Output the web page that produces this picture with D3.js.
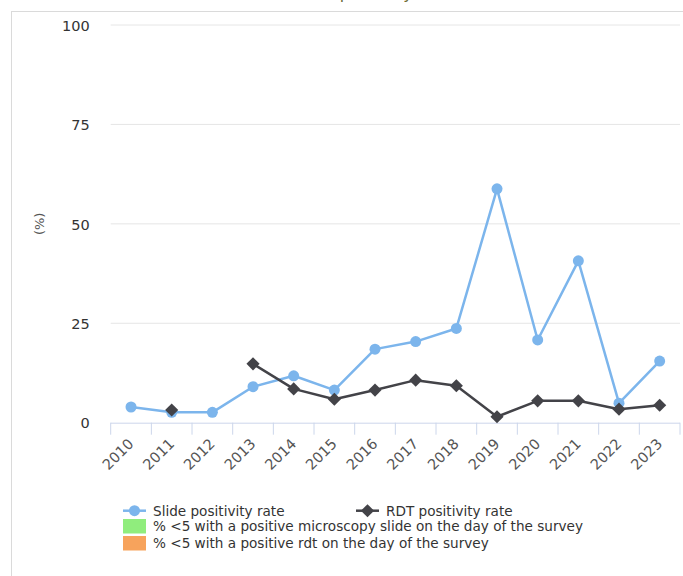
<!DOCTYPE html>
<html><head><meta charset="utf-8">
<script src="https://cdn.jsdelivr.net/npm/d3@7/dist/d3.min.js"></script>
<style>body{margin:0;background:#fff}svg{display:block}</style>
</head><body>
<svg id="c" width="683" height="576"></svg>
<script>
const years = ["2010","2011","2012","2013","2014","2015","2016","2017","2018","2019","2020","2021","2022","2023"];
const slideRate = [3.95, 2.6, 2.6, 9.05, 11.8, 8.2, 18.5, 20.4, 23.7, 58.8, 20.8, 40.7, 4.9, 15.5];
const rdtRate = [null, 3.2, null, 14.8, 8.5, 5.9, 8.2, 10.7, 9.3, 1.5, 5.5, 5.5, 3.4, 4.4];
const yTicks = [0, 25, 50, 75, 100];
const legendLines = ["Slide positivity rate", "RDT positivity rate"];
const legendBoxes = ["% <5 with a positive microscopy slide on the day of the survey", "% <5 with a positive rdt on the day of the survey"];
const colors = {slide:"#7cb5ec", rdt:"#434348", green:"#90ed7d", orange:"#f7a35c"};

const font = "'DejaVu Sans', Verdana, sans-serif";
const svg = d3.select("#c");
const L = 110.7, R = 680, T = 25, B = 422.7;

svg.append("rect").attr("x",11.5).attr("y",11.5).attr("width",700).attr("height",600)
  .attr("fill","none").attr("stroke","#dadada");

svg.append("text").attr("x",358).attr("y",-1).attr("text-anchor","middle")
  .attr("font-family",font).attr("font-size",16).attr("fill","#6d6a35").text("Test positivity");

const x = d3.scaleBand().domain(years).range([L, R]);
const y = d3.scaleLinear().domain([0,100]).range([B, T]);

// grid
svg.append("g").selectAll("line").data(yTicks.filter(d=>d>0)).join("line")
  .attr("x1",L).attr("x2",R).attr("y1",d=>y(d)).attr("y2",d=>y(d))
  .attr("stroke","#e6e6e6").attr("stroke-width",1);

// y axis labels
const ya = svg.append("g").attr("transform",`translate(${L-21},0)`)
  .call(d3.axisLeft(y).tickValues(yTicks).tickSize(0).tickPadding(0));
ya.select(".domain").remove();
ya.selectAll("text").attr("font-family",font).attr("font-size",14.5).attr("fill","#333").attr("dy","0.36em");

svg.append("text").attr("transform",`translate(44,${(T+B)/2}) rotate(-90)`)
  .attr("text-anchor","middle").attr("font-family",font).attr("font-size",13).attr("fill","#555").text("(%)");

// x axis
const xa = svg.append("g").attr("transform",`translate(0,${B})`)
  .call(d3.axisBottom(x).tickSize(0).tickPadding(0));
xa.select(".domain").attr("stroke","#ccd6eb").attr("d",`M${L},0.5H${R}`);
xa.selectAll("g.tick").remove();
const boundaries = years.map(d=>x(d)).concat([R]);
xa.selectAll("line.b").data(boundaries).join("line").attr("class","b")
  .attr("x1",d=>d).attr("x2",d=>d).attr("y1",0).attr("y2",12)
  .attr("stroke","#ccd6eb");
xa.selectAll("text.l").data(years).join("text").attr("class","l")
  .attr("transform",d=>`translate(${x(d)+x.bandwidth()/2+3.5},${22}) rotate(-45)`)
  .attr("text-anchor","end")
  .attr("font-family",font).attr("font-size",14.5).attr("fill","#555").text(d=>d);

const cx = d => x(d) + x.bandwidth()/2;
const line = d3.line().defined(d=>d.v!=null).x(d=>cx(d.k)).y(d=>y(d.v));

const sData = years.map((k,i)=>({k, v:slideRate[i]}));
const rData = years.map((k,i)=>({k, v:rdtRate[i]}));

svg.append("path").datum(sData).attr("d",line).attr("fill","none")
  .attr("stroke",colors.slide).attr("stroke-width",2.5).attr("stroke-linejoin","round");
svg.append("path").datum(rData).attr("d",line).attr("fill","none")
  .attr("stroke",colors.rdt).attr("stroke-width",2.5).attr("stroke-linejoin","round");

svg.append("g").selectAll("circle").data(sData.filter(d=>d.v!=null)).join("circle")
  .attr("cx",d=>cx(d.k)).attr("cy",d=>y(d.v)).attr("r",5.5).attr("fill",colors.slide);
const dia = d3.symbol().type(d3.symbolDiamond2).size(110);
svg.append("g").selectAll("path").data(rData.filter(d=>d.v!=null)).join("path")
  .attr("transform",d=>`translate(${cx(d.k)},${y(d.v)})`).attr("d",dia).attr("fill",colors.rdt);

// legend
const lg = svg.append("g").attr("font-family",font).attr("font-size",13.6).attr("fill","#333");
const lx = [123, 356];
legendLines.forEach((t,i)=>{
  const c = i===0?colors.slide:colors.rdt;
  lg.append("line").attr("x1",lx[i]).attr("x2",lx[i]+23).attr("y1",510.7).attr("y2",510.7)
    .attr("stroke",c).attr("stroke-width",2.5);
  if(i===0) lg.append("circle").attr("cx",lx[i]+11.5).attr("cy",510.7).attr("r",5.5).attr("fill",c);
  else lg.append("path").attr("transform",`translate(${lx[i]+11.5},510.7)`).attr("d",dia).attr("fill",c);
  lg.append("text").attr("x",lx[i]+30).attr("y",510.7).attr("dy","0.36em").text(t);
});
legendBoxes.forEach((t,i)=>{
  const yy = 519 + i*17;
  lg.append("rect").attr("x",123).attr("y",yy).attr("width",23).attr("height",14.5)
    .attr("fill",i===0?colors.green:colors.orange);
  lg.append("text").attr("x",153).attr("y",yy+7.2).attr("dy","0.36em").text(t);
});
</script>
</body></html>
